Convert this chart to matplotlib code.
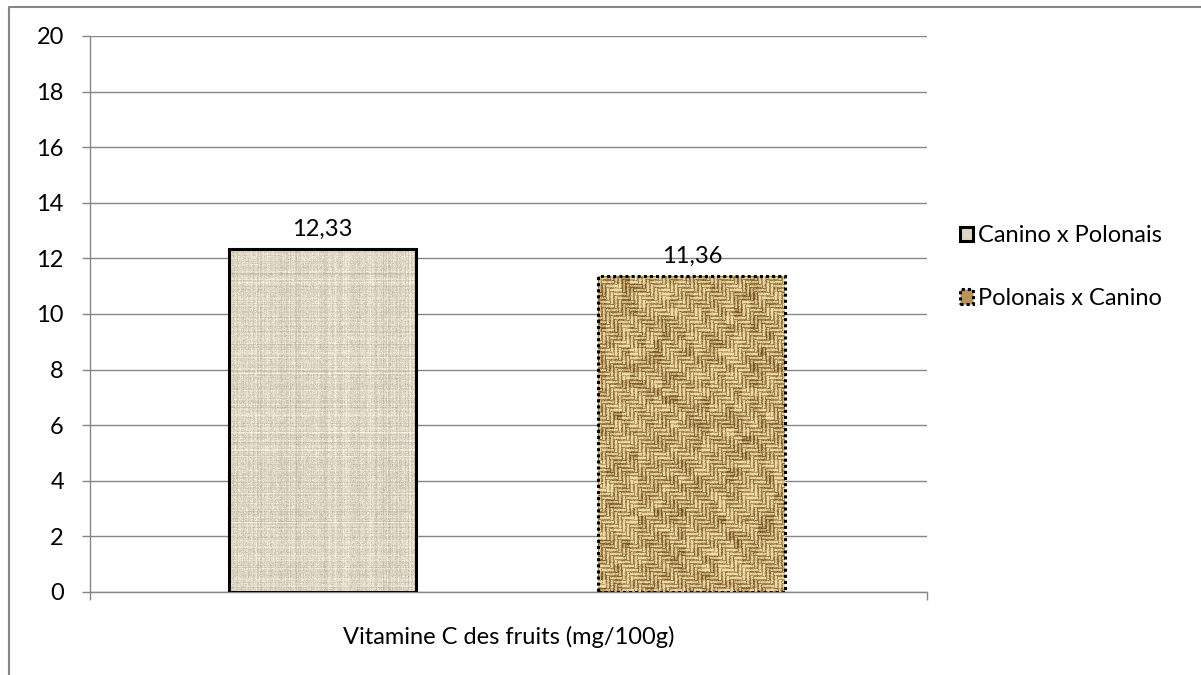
import numpy as np
import matplotlib
matplotlib.use("Agg")
import matplotlib.pyplot as plt
from matplotlib.patches import Patch
from matplotlib.lines import Line2D

# data
series = ["Canino x Polonais", "Polonais x Canino"]
values = [12.33, 11.36]
value_labels = ["12,33", "11,36"]
yticks = [0, 2, 4, 6, 8, 10, 12, 14, 16, 18, 20]
xlabel = "Vitamine C des fruits (mg/100g)"

plt.rcParams['font.family'] = ['Lato', 'DejaVu Sans']
FS = 17
GRAY = "#868686"

fig = plt.figure(figsize=(12.01, 6.75), dpi=100)
ax = fig.add_axes([90/1201, 1-592/675, 837/1201, 556/675])

pos = np.arange(len(values))
width = 0.506
bars = ax.bar(pos, values, width=width, facecolor="none", zorder=3)
ax.set_xlim(-0.629, 1.636)
ax.set_ylim(0, 20)

ax.set_yticks(yticks)
ax.set_yticklabels([str(t) for t in yticks], fontsize=FS)
ax.tick_params(axis="y", direction="out", length=5.8, width=1, color=GRAY, pad=13)
ax.set_xticks(ax.get_xlim())
ax.set_xticklabels([])
ax.tick_params(axis="x", direction="out", length=5.8, width=1, color=GRAY)
ax.grid(axis="y", color=GRAY, linewidth=1, zorder=0)
ax.set_axisbelow(True)
for s in ["top", "right"]:
    ax.spines[s].set_visible(False)
for s in ["left", "bottom"]:
    ax.spines[s].set_color(GRAY)
    ax.spines[s].set_linewidth(1)
ax.set_xlabel(xlabel, fontsize=FS, labelpad=15)


def linen(h, w):
    rng = np.random.default_rng(1)
    base = np.array([222, 214, 196], float) / 255
    rows = rng.normal(0, 0.03, (h, 1))
    cols = rng.normal(0, 0.03, (1, w))
    pix = rng.normal(0, 0.035, (h, w))
    lum = rows + cols + pix
    img = base[None, None, :] + lum[..., None]
    return np.clip(img, 0, 1)


def burlap(h, w):
    # twill-like weave, threads ~4px, runs of 3 blocks
    rng = np.random.default_rng(2)
    p = 4
    yy, xx = np.mgrid[0:h, 0:w]
    horiz = ((xx // p) - (yy // p)) % 6 < 3
    prof_h = np.sin(np.pi * (yy % p + 0.5) / p)
    prof_v = np.sin(np.pi * (xx % p + 0.5) / p)
    prof = np.where(horiz, prof_h, prof_v)
    blotch = rng.normal(0, 0.12, (h // 8 + 1, w // 8 + 1)).repeat(8, 0).repeat(8, 1)[:h, :w]
    light = np.array([240, 220, 165], float) / 255
    dark = np.array([120, 82, 35], float) / 255
    t = np.clip(prof + blotch + rng.normal(0, 0.12, (h, w)) - 0.05, 0, 1)
    img = dark[None, None, :] * (1 - t[..., None]) + light[None, None, :] * t[..., None]
    return np.clip(img, 0, 1)


fig.canvas.draw()
makers = [linen, burlap]
for b, mk in zip(bars, makers):
    x0, y0 = b.get_x(), 0
    x1, y1 = x0 + b.get_width(), b.get_height()
    p0 = ax.transData.transform((x0, y0))
    p1 = ax.transData.transform((x1, y1))
    wpx = int(abs(p1[0] - p0[0])) + 1
    hpx = int(abs(p1[1] - p0[1])) + 1
    im = ax.imshow(mk(hpx, wpx), extent=(x0, x1, y0, y1), aspect="auto",
                   interpolation="nearest", zorder=2)
    im.set_clip_path(b)

ax.set_xlim(-0.629, 1.636)
ax.set_ylim(0, 20)

bars[0].set_edgecolor("black")
bars[0].set_linewidth(2.2)
bars[1].set_edgecolor("black")
bars[1].set_linewidth(2.2)
bars[1].set_linestyle((0, (1, 1)))

for b, lab in zip(bars, value_labels):
    ax.annotate(lab, (b.get_x() + b.get_width() / 2, b.get_height()),
                xytext=(0, 7), textcoords="offset points",
                ha="center", va="bottom", fontsize=FS)

handles = [
    Patch(facecolor="#DED6C4", edgecolor="black", linewidth=2.2, label=series[0]),
    Patch(facecolor="#B8935A", edgecolor="black", linewidth=2.2, linestyle=(0, (1, 1)), label=series[1]),
]
fig.legend(handles=handles, loc="upper left", bbox_to_anchor=(951/1201, 1-216/675),
           frameon=False, fontsize=FS, handlelength=0.55, handleheight=0.55,
           handletextpad=0.2, labelspacing=1.75, borderaxespad=0)

# outer chart border
fig.add_artist(Line2D([9/1201, 9/1201, 1.0], [0.0, 1-7/675, 1-7/675],
                      transform=fig.transFigure, color=GRAY, linewidth=1.5))

fig.savefig("out.png", dpi=100)
